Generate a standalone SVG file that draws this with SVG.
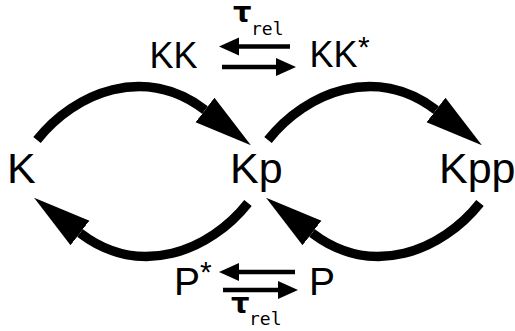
<svg xmlns="http://www.w3.org/2000/svg" width="515" height="331" viewBox="0 0 515 331">
<style>
.lbl{font-family:"Liberation Sans",Arial,sans-serif;fill:#000}
.big{font-size:43px}
.mid{font-size:36px}
.pp{font-size:39px}
.star{font-size:30px}
.tau{font-family:"DejaVu Sans",sans-serif;font-size:29px;font-weight:bold;fill:#000}
.sub{font-family:"DejaVu Sans Mono",monospace;font-size:18px;fill:#000}
.arc{fill:none;stroke:#000;stroke-width:9.5;marker-end:url(#big)}
.sm{fill:none;stroke:#000;stroke-width:4.5;marker-end:url(#small)}
</style>
<defs>
<marker id="big" markerUnits="userSpaceOnUse" markerWidth="60" markerHeight="40" viewBox="0 -16 56 32" refX="0" refY="0" orient="auto">
<path d="M0,-14.5 L54,0 L0,14.5 z" fill="#000"/>
</marker>
<marker id="small" markerUnits="userSpaceOnUse" markerWidth="22" markerHeight="22" viewBox="0 -11 22 22" refX="0" refY="0" orient="auto">
<path d="M0,-9 L20,0 L0,9 z" fill="#000"/>
</marker>
</defs>
<rect width="515" height="331" fill="#fff"/>
<g id="connectors">
<path class="arc" d="M37,140 C75,92 145,64 205,110"/>
<path class="arc" d="M248,203 C210,251 140,279 80,233"/>
<path class="arc" d="M268,140 C306,92 376,64 436,110"/>
<path class="arc" d="M480,203 C442,251 372,279 312,233"/>
<path class="sm" d="M290,46.5 L239,46.5"/>
<path class="sm" d="M222,67 L276,67"/>
<path class="sm" d="M295,272 L239,272"/>
<path class="sm" d="M223,290 L278,290"/>
</g>
<g id="node-K"><text class="lbl big" x="7" y="183">K</text></g>
<g id="node-Kp"><text class="lbl big" x="230" y="183">Kp</text></g>
<g id="node-Kpp"><text class="lbl big" x="439" y="183">Kpp</text></g>
<g id="node-KK"><text class="lbl mid" x="149.5" y="68">KK</text></g>
<g id="node-KKstar"><text class="lbl mid" x="309.5" y="67">KK</text><text class="lbl star" x="358" y="56.5">*</text></g>
<g id="node-Pstar"><text class="lbl pp" x="174" y="295">P</text><text class="lbl star" x="200" y="281.5">*</text></g>
<g id="node-P"><text class="lbl pp" x="309" y="295">P</text></g>
<g id="label-tau-top"><text class="tau" x="233" y="22">τ</text><text class="sub" x="251" y="35">rel</text></g>
<g id="label-tau-bottom"><text class="tau" x="231" y="313">τ</text><text class="sub" x="249" y="325">rel</text></g>
</svg>
